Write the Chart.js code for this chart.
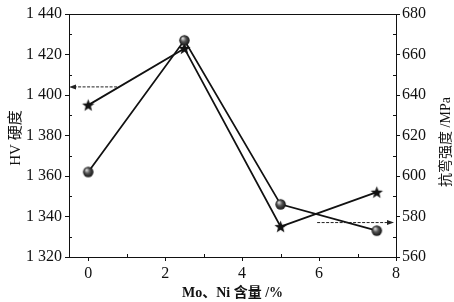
<!DOCTYPE html>
<html>
<head>
<meta charset="utf-8">
<script src="https://cdn.jsdelivr.net/npm/chart.js@4/dist/chart.umd.min.js"></script>
<style>
html,body{margin:0;padding:0;background:#fff;}
canvas{display:block;}
</style>
</head>
<body>
<canvas id="c" width="454" height="302"></canvas>
<script>
// ---- data ----
const contents = [0, 2.5, 5, 7.5];              // Mo,Ni content /%
const hardnessHV = [1395, 1423, 1335, 1352];     // HV hardness (stars, left axis)
const strengthMPa = [602, 667, 586, 573];        // bending strength (balls, right axis)
const xTickValues = [0, 2, 4, 6, 8];
const hvTickValues = [1320, 1340, 1360, 1380, 1400, 1420, 1440];
const mpaTickValues = [560, 580, 600, 620, 640, 660, 680];
const hvArrowX = [0.75, -0.5], hvArrowY = 1404;    // arrow pointing to left axis
const mpaArrowX = [5.95, 8], mpaArrowY = 577;      // arrow pointing to right axis
const xTitle = 'Mo、Ni 含量 /%';
const hvTitle = 'HV 硬度';
const mpaTitle = '抗弯强度 /MPa';

// ---- marker images ----
function starImg(r) {
  const c = document.createElement('canvas');
  const s = Math.ceil(r * 2 + 2); c.width = s; c.height = s;
  const g = c.getContext('2d');
  g.translate(s / 2, s / 2 + 0.5);
  g.beginPath();
  for (let i = 0; i < 10; i++) {
    const rad = i % 2 === 0 ? r : r * 0.42;
    const a = -Math.PI / 2 + i * Math.PI / 5;
    g.lineTo(rad * Math.cos(a), rad * Math.sin(a));
  }
  g.closePath();
  g.fillStyle = '#111'; g.fill();
  return c;
}
function ballImg(r) {
  const c = document.createElement('canvas');
  const s = Math.ceil(r * 2 + 2); c.width = s; c.height = s;
  const g = c.getContext('2d');
  const m = s / 2;
  const grad = g.createRadialGradient(m - r * 0.35, m - r * 0.4, r * 0.1, m, m, r);
  grad.addColorStop(0, '#d8d8d8');
  grad.addColorStop(0.45, '#555');
  grad.addColorStop(1, '#111');
  g.beginPath(); g.arc(m, m, r, 0, Math.PI * 2);
  g.fillStyle = grad; g.fill();
  return c;
}

const serif = "'Liberation Serif','Times New Roman',serif";
const cjk = "'Liberation Serif','Noto Sans CJK SC',serif";

function arrow(ctx, x0, y0, x1, y1) {
  ctx.save();
  ctx.strokeStyle = '#222'; ctx.fillStyle = '#222'; ctx.lineWidth = 1;
  ctx.setLineDash([3, 1.5]);
  const dir = Math.sign(x1 - x0);
  ctx.beginPath(); ctx.moveTo(x0, y0); ctx.lineTo(x1 - dir * 5, y1); ctx.stroke();
  ctx.setLineDash([]);
  ctx.beginPath();
  ctx.moveTo(x1, y1); ctx.lineTo(x1 - dir * 7, y1 - 2.5); ctx.lineTo(x1 - dir * 7, y1 + 2.5);
  ctx.closePath(); ctx.fill();
  ctx.restore();
}

const decor = {
  id: 'decor',
  afterDraw(chart) {
    const ctx = chart.ctx, a = chart.chartArea;
    const xs = chart.scales.x, yl = chart.scales.y, yr = chart.scales.y2;
    ctx.save();
    ctx.strokeStyle = '#111'; ctx.lineWidth = 1;
    // top frame line
    ctx.beginPath(); ctx.moveTo(a.left, a.top + 0.5); ctx.lineTo(a.right, a.top + 0.5); ctx.stroke();
    // minor ticks
    ctx.beginPath();
    for (let v = 1; v < 8; v += 2) {
      const px = Math.round(xs.getPixelForValue(v)) + 0.5;
      ctx.moveTo(px, a.bottom); ctx.lineTo(px, a.bottom - 3);
    }
    for (let v = 1330; v < 1440; v += 20) {
      const py = Math.round(yl.getPixelForValue(v)) + 0.5;
      ctx.moveTo(a.left, py); ctx.lineTo(a.left + 3, py);
    }
    for (let v = 570; v < 680; v += 20) {
      const py = Math.round(yr.getPixelForValue(v)) + 0.5;
      ctx.moveTo(a.right, py); ctx.lineTo(a.right - 3, py);
    }
    ctx.stroke();
    // arrows
    const hy = yl.getPixelForValue(hvArrowY);
    arrow(ctx, xs.getPixelForValue(hvArrowX[0]), hy, xs.getPixelForValue(hvArrowX[1]), hy);
    const my = yr.getPixelForValue(mpaArrowY);
    arrow(ctx, xs.getPixelForValue(mpaArrowX[0]), my, xs.getPixelForValue(mpaArrowX[1]) - 2, my);
    // titles
    ctx.fillStyle = '#111';
    ctx.textAlign = 'center'; ctx.textBaseline = 'middle';
    ctx.font = "bold 14px " + cjk;
    ctx.fillText(xTitle, (a.left + a.right) / 2, 293);
    ctx.font = "15px " + cjk;
    ctx.save(); ctx.translate(16, 138); ctx.rotate(-Math.PI / 2); ctx.fillText(hvTitle, 0, 0); ctx.restore();
    ctx.font = "14px " + cjk;
    ctx.save(); ctx.translate(446, 142); ctx.rotate(-Math.PI / 2); ctx.fillText(mpaTitle, 0, 0); ctx.restore();
    ctx.restore();
  }
};

const axisCommon = {
  grid: { drawOnChartArea: false, drawTicks: true, tickLength: 4, color: '#111' },
  border: { display: true, color: '#111', width: 1 },
  title: { display: false }
};

new Chart(document.getElementById('c'), {
  type: 'line',
  data: {
    datasets: [
      {
        label: hvTitle,
        data: contents.map((x, i) => ({ x, y: hardnessHV[i] })),
        yAxisID: 'y',
        borderColor: '#111', borderWidth: 1.8,
        pointStyle: starImg(6.5), pointRadius: 6, pointHoverRadius: 6,
        tension: 0, order: 2
      },
      {
        label: mpaTitle,
        data: contents.map((x, i) => ({ x, y: strengthMPa[i] })),
        yAxisID: 'y2',
        borderColor: '#111', borderWidth: 1.8,
        pointStyle: ballImg(5.2), pointRadius: 6, pointHoverRadius: 6,
        tension: 0, order: 1
      }
    ]
  },
  options: {
    responsive: false, animation: false,
    layout: { padding: { top: 14, left: 0, right: 0, bottom: 0 } },
    plugins: { legend: { display: false }, tooltip: { enabled: false } },
    scales: {
      x: Object.assign({}, axisCommon, {
        type: 'linear', position: 'bottom', min: -0.5, max: 8,
        afterBuildTicks: s => { s.ticks = xTickValues.map(v => ({ value: v })); },
        afterFit: s => { s.height = 45; },
        ticks: { color: '#111', padding: 3, font: { family: serif, size: 16 }, callback: v => String(v) }
      }),
      y: Object.assign({}, axisCommon, {
        type: 'linear', position: 'left', min: 1320, max: 1440,
        afterBuildTicks: s => { s.ticks = hvTickValues.map(v => ({ value: v })); },
        afterFit: s => { s.width = 69; },
        ticks: { color: '#111', padding: 3, font: { family: serif, size: 16 },
          callback: v => { const t = String(v); return t.slice(0, 1) + ' ' + t.slice(1); } }
      }),
      y2: Object.assign({}, axisCommon, {
        type: 'linear', position: 'right', min: 560, max: 680,
        afterBuildTicks: s => { s.ticks = mpaTickValues.map(v => ({ value: v })); },
        afterFit: s => { s.width = 58; },
        ticks: { color: '#111', padding: 2, font: { family: serif, size: 16 }, callback: v => String(v) }
      })
    }
  },
  plugins: [decor]
});
</script>
</body>
</html>
